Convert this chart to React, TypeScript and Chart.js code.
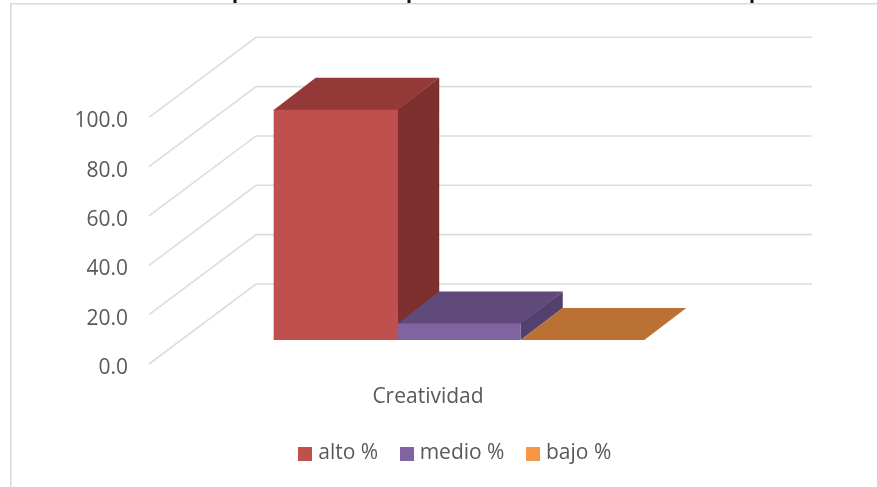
import React, { useEffect, useRef } from "react";
import { Chart, registerables } from "chart.js";

Chart.register(...registerables);

const categories = ["Creatividad"];
const seriesNames = ["alto %", "medio %", "bajo %"];
const altoValues = [93.3];
const medioValues = [6.7];
const bajoValues = [0];
const yTicks = [0, 20, 40, 60, 80, 100];

// Face colours of each box: front, top, side.
const frontColors = ["#C0504D", "#8064A2", "#F79646"];
const topColors = ["#933A38", "#604A7B", "#BA7133"];
const sideColors = ["#7D302E", "#54406D", "#A5622B"];

// Oblique projection: how far the bars' depth runs, and where the floor's
// front and back edges sit relative to the plane of the bar fronts.
const BAR_DEPTH = { x: 42, y: -32 };
const FLOOR_FRONT = { x: -32, y: 24 };
const FLOOR_BACK = { x: 75, y: -56 };

const FONT = { family: "'Open Sans', sans-serif", size: 21 };
const TEXT_COLOR = "#595959";
const GRID_COLOR = "#DDDDDD";

// Stems of the heading's descenders, which are all that stays inside the frame.
const headingStems = [235, 409, 752];

const polygon = (ctx: CanvasRenderingContext2D, pts: number[][], fill: string) => {
  ctx.beginPath();
  pts.forEach(([x, y], i) => (i ? ctx.lineTo(x, y) : ctx.moveTo(x, y)));
  ctx.closePath();
  ctx.fillStyle = fill;
  ctx.fill();
};

const swatch = (color: string) => {
  const c = document.createElement("canvas");
  c.width = 14;
  c.height = 14;
  const g = c.getContext("2d")!;
  g.fillStyle = color;
  g.fillRect(0, 0, 14, 14);
  return c;
};

const framePlugin = {
  id: "frame",
  beforeDraw(chart: any) {
    const { ctx, width, height } = chart;
    ctx.save();
    ctx.fillStyle = "#FFFFFF";
    ctx.fillRect(0, 0, width, height);
    ctx.fillStyle = "#D9D9D9";
    ctx.fillRect(10, 3, width - 10, 1.5);
    ctx.fillRect(10, 3, 1.5, height - 3);
    ctx.fillStyle = "#111111";
    headingStems.forEach((x) => ctx.fillRect(x - 1.5, 0, 3, 3));
    ctx.restore();
  },
};

const depthPlugin = {
  id: "depth",
  beforeDatasetsDraw(chart: any) {
    const { ctx, chartArea, scales } = chart;
    ctx.save();

    // Wall and side gridlines, one per value tick.
    ctx.strokeStyle = GRID_COLOR;
    ctx.lineWidth = 1.6;
    yTicks.forEach((tick) => {
      const y = scales.y.getPixelForValue(tick);
      ctx.beginPath();
      ctx.moveTo(chartArea.left + FLOOR_FRONT.x, y + FLOOR_FRONT.y);
      ctx.lineTo(chartArea.left + FLOOR_BACK.x, y + FLOOR_BACK.y);
      ctx.lineTo(chartArea.right + FLOOR_BACK.x, y + FLOOR_BACK.y);
      ctx.stroke();
    });

    // Top and side faces; the front faces are the chart's own bars. The top
    // face runs a pixel row under the front so no seam shows between them.
    chart.data.datasets.forEach((_: unknown, i: number) => {
      chart.getDatasetMeta(i).data.forEach((bar: any) => {
        const left = bar.x - bar.width / 2;
        const right = bar.x + bar.width / 2;
        const dx = BAR_DEPTH.x;
        const dy = BAR_DEPTH.y;
        const seam = Math.ceil(bar.y);
        polygon(ctx, [[left, seam], [right, seam], [right + dx, bar.y + dy], [left + dx, bar.y + dy]], topColors[i]);
        if (bar.base - bar.y > 0.5) {
          polygon(ctx, [[right, bar.y], [right + dx, bar.y + dy], [right + dx, bar.base + dy], [right, bar.base]], sideColors[i]);
        }
      });
    });
    ctx.restore();
  },
};

// The key sits slightly left of the plot's centre.
const legendNudgePlugin = {
  id: "legendNudge",
  afterLayout(chart: any) {
    chart.legend.left -= 2;
    chart.legend.right -= 2;
  },
};

export default function App() {
  const ref = useRef<HTMLCanvasElement>(null);

  useEffect(() => {
    const seriesValues = [altoValues, medioValues, bajoValues];
    const chart = new Chart(ref.current!, {
      type: "bar",
      data: {
        labels: categories,
        datasets: seriesNames.map((label, i) => ({
          label,
          data: seriesValues[i],
          backgroundColor: frontColors[i],
          borderWidth: 0,
          categoryPercentage: 2 / 3,
          barPercentage: 1,
        })),
      },
      options: {
        responsive: false,
        animation: false,
        layout: { padding: { left: 0, right: 140, top: 93.3, bottom: 13 } },
        scales: {
          x: {
            grid: { display: false },
            border: { display: false },
            ticks: {
              color: TEXT_COLOR,
              font: FONT,
              padding: 36,
              labelOffset: FLOOR_FRONT.x + 1,
            },
            afterFit: (scale: any) => {
              scale.height = 77;
            },
          },
          y: {
            min: 0,
            max: 100,
            grid: { display: false },
            border: { display: false },
            ticks: {
              stepSize: 20,
              color: TEXT_COLOR,
              font: FONT,
              padding: 45,
              labelOffset: FLOOR_FRONT.y + 4,
              callback: (v: any) => Number(v).toFixed(1),
            },
            afterFit: (scale: any) => {
              scale.width = 181;
            },
          },
        },
        plugins: {
          title: { display: false },
          tooltip: { enabled: false },
          legend: {
            position: "bottom",
            fullSize: false,
            labels: {
              color: TEXT_COLOR,
              font: FONT,
              padding: 26,
              boxHeight: 14,
              usePointStyle: true,
              pointStyleWidth: 5,
              generateLabels: () =>
                seriesNames.map((text, i) => ({
                  text,
                  datasetIndex: i,
                  fillStyle: frontColors[i],
                  strokeStyle: frontColors[i],
                  lineWidth: 0,
                  hidden: false,
                  pointStyle: swatch(frontColors[i]),
                  fontColor: TEXT_COLOR,
                })),
            },
          },
        },
      } as any,
      plugins: [framePlugin, depthPlugin, legendNudgePlugin],
    });
    return () => chart.destroy();
  }, []);

  return (
    <div style={{ position: "absolute", left: 0, top: 0, width: 877, height: 487 }}>
      <canvas ref={ref} width={877} height={487} style={{ display: "block" }} />
    </div>
  );
}
